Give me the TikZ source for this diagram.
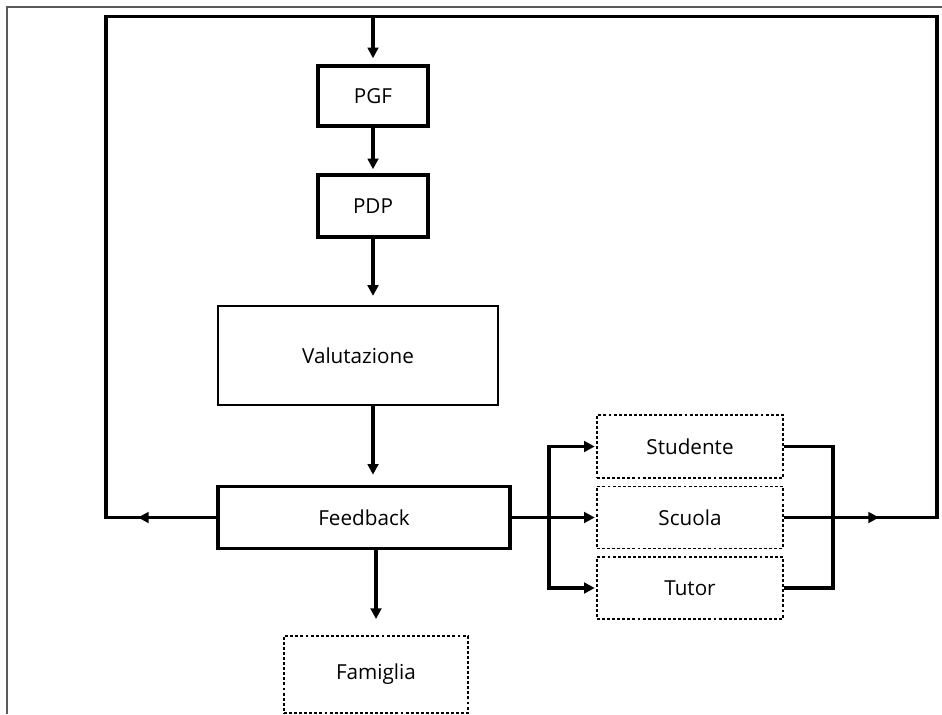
\documentclass[tikz,border=0pt]{standalone}
\usepackage{fontspec}
\setmainfont{Open Sans}
\usetikzlibrary{arrows.meta}

\tikzset{
  boxthick/.style={draw,line width=2.7pt,inner sep=0pt,font=\fontsize{15.5}{18}\selectfont},
  boxthin/.style={draw,line width=1.2pt,inner sep=0pt,font=\fontsize{15.5}{18}\selectfont},
  boxdot/.style={draw,line width=1.4pt,dash pattern=on 2.2pt off 1.6pt,inner sep=0pt,font=\fontsize{15.5}{18}\selectfont},
  wire/.style={line width=2.7pt},
  flow/.style={line width=2.7pt,-{Triangle[length=8pt,width=8pt]}},
}

\begin{document}
\begin{tikzpicture}[x=0.75pt,y=0.75pt,yscale=-1,xscale=1]
\useasboundingbox (0,0) rectangle (942,714);

%Shape: Frame
\draw [color={rgb, 255:red, 90; green, 90; blue, 90 }, line width=0.8pt] (7,714) -- (7,7) -- (942,7) ;

%Shape: Rectangle [id:PGF]
\node [boxthick, minimum width=82.5pt, minimum height=45pt] (pgf) at (373,96) {PGF};
%Shape: Rectangle [id:PDP]
\node [boxthick, minimum width=82.5pt, minimum height=46.5pt] (pdp) at (373,206) {PDP};
%Shape: Rectangle [id:Valutazione]
\node [boxthin, minimum width=210pt, minimum height=74.25pt] (valutazione) at (358,355.5) {Valutazione};
%Shape: Rectangle [id:Feedback]
\node [boxthick, minimum width=219pt, minimum height=46.5pt] (feedback) at (364,517.5) {Feedback};
%Shape: Rectangle [id:Famiglia]
\node [boxdot, minimum width=138pt, minimum height=57.75pt] (famiglia) at (376,674.5) {Famiglia};
%Shape: Rectangle [id:Studente]
\node [boxdot, minimum width=139.5pt, minimum height=47.25pt] (studente) at (690,446.5) {Studente};
%Shape: Rectangle [id:Scuola]
\node [boxdot, minimum width=139.5pt, minimum height=46.5pt] (scuola) at (690,517.5) {Scuola};
%Shape: Rectangle [id:Tutor]
\node [boxdot, minimum width=139.5pt, minimum height=46.5pt] (tutor) at (690,588) {Tutor};

% Loop corners
\coordinate (loopTL) at (106,16.5);
\coordinate (loopTR) at (937,16.5);
\coordinate (loopBL) at (106,517.5);
\coordinate (loopBR) at (937,517.5);
\coordinate (loopTop) at (373,16.5);
\coordinate (tipL) at (138,517.5);
\coordinate (tipR) at (879,517.5);
\coordinate (busL) at (549,517.5);
\coordinate (busR) at (833,517.5);

%Straight Lines [id:loop]
\draw [wire, line join=miter] (feedback.west) -- (loopBL) -- (loopTL) -- (loopTR) -- (loopBR) -- (scuola.east) ;
\draw [flow] (feedback.west) -- (tipL) ;
\draw [flow] (scuola.east) -- (tipR) ;
\draw [flow, shorten >=4.5pt] (loopTop) -- (pgf.north) ;

%Straight Lines [id:main]
\draw [flow, shorten >=3pt] (pgf.south) -- (pdp.north) ;
\draw [flow, shorten >=7pt] (pdp.south) -- (pdp.south |- valutazione.north) ;
\draw [flow, shorten >=7.5pt] (pdp.south |- valutazione.south) -- (pdp.south |- feedback.north) ;
\draw [flow, shorten >=12pt] (famiglia.north |- feedback.south) -- (famiglia.north) ;

%Straight Lines [id:bus]
\draw [flow, shorten >=1pt] (feedback.east) -- (scuola.west) ;
\draw [flow, shorten >=1pt] (busL) |- (studente.west) ;
\draw [flow, shorten >=1pt] (busL) |- (tutor.west) ;
\draw [wire, line join=miter] (studente.east) -| (busR) |- (tutor.east) ;

\end{tikzpicture}
\end{document}
